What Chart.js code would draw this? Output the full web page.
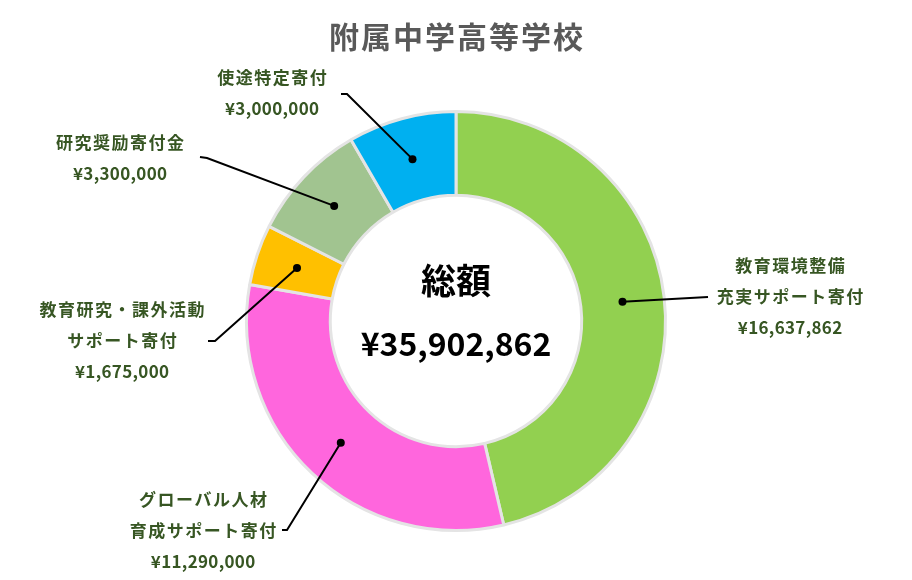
<!DOCTYPE html>
<html>
<head>
<meta charset="utf-8">
<script src="https://cdn.jsdelivr.net/npm/chart.js@4.4.1/dist/chart.umd.min.js"></script>
<style>
html,body{margin:0;padding:0;background:#fff;}
#wrap{width:912px;height:580px;position:relative;}
</style>
</head>
<body>
<div id="wrap"><canvas id="c" width="912" height="580"></canvas></div>
<script>
const chartTitle = "附属中学高等学校";
const categories = [
  ["教育環境整備", "充実サポート寄付"],
  ["グローバル人材", "育成サポート寄付"],
  ["教育研究・課外活動", "サポート寄付"],
  ["研究奨励寄付金"],
  ["使途特定寄付"]
];
const values = [16637862, 11290000, 1675000, 3300000, 3000000];
const colors = ["#92d050", "#ff66dd", "#ffc000", "#a1c490", "#00b0f0"];
const centerLabel = "総額";

const fmt = v => "¥" + v.toLocaleString("en-US");
const total = values.reduce((a, b) => a + b, 0);

// label layout: elbow point, tick end, text center x, first text line y
const labelLayout = [
  {elbow: [708, 297], tick: [708, 297], tx: 790, ty: 266},
  {elbow: [287, 530], tick: [282, 530], tx: 203, ty: 500},
  {elbow: [215, 341], tick: [208, 341], tx: 122, ty: 310},
  {elbow: [207, 158], tick: [200, 157], tx: 120, ty: 143},
  {elbow: [347, 94], tick: [341, 94], tx: 272, ty: 78}
];

const FONT = '"Noto Sans CJK JP", "Noto Sans", sans-serif';

function spacedText(ctx, t, x, y, sp) {
  ctx.letterSpacing = sp + "px";
  ctx.fillText(t, x + sp / 2, y);
  ctx.letterSpacing = "0px";
}

const labelPlugin = {
  id: 'labelPlugin',
  afterDraw(chart) {
    const ctx = chart.ctx;
    const meta = chart.getDatasetMeta(0);
    ctx.save();
    ctx.textAlign = "center";
    ctx.textBaseline = "middle";
    // title
    ctx.fillStyle = "#595959";
    ctx.font = "bold 30px " + FONT;
    spacedText(ctx, chartTitle, 456, 37, 2);
    // center text
    const arc0 = meta.data[0];
    ctx.fillStyle = "#000";
    ctx.font = "bold 35px " + FONT;
    ctx.fillText(centerLabel, arc0.x, 281);
    ctx.font = "bold 32px " + FONT;
    ctx.fillText(fmt(total), arc0.x, 344);
    // leader lines and labels
    meta.data.forEach((arc, i) => {
      const p = arc.tooltipPosition();
      const L = labelLayout[i];
      ctx.strokeStyle = "#000";
      ctx.lineWidth = 2;
      ctx.beginPath();
      ctx.moveTo(p.x, p.y);
      ctx.lineTo(L.elbow[0], L.elbow[1]);
      ctx.lineTo(L.tick[0], L.tick[1]);
      ctx.stroke();
      ctx.fillStyle = "#000";
      ctx.beginPath();
      ctx.arc(p.x, p.y, 4, 0, Math.PI * 2);
      ctx.fill();
      ctx.fillStyle = "#375623";
      ctx.font = "bold 17px " + FONT;
      const lines = categories[i];
      lines.forEach((t, k) => {
        spacedText(ctx, t, L.tx, L.ty + k * 31, 1.5);
      });
      spacedText(ctx, fmt(values[i]), L.tx, L.ty + lines.length * 31, 0.3);
    });
    ctx.restore();
  }
};

new Chart(document.getElementById('c'), {
  type: 'doughnut',
  data: {
    labels: categories.map(c => c.join("")),
    datasets: [{
      data: values,
      backgroundColor: colors,
      borderColor: "#e4e4e4",
      borderWidth: 3
    }]
  },
  options: {
    responsive: false,
    animation: false,
    cutout: "60%",
    layout: {padding: {top: 110, bottom: 48, left: 0, right: 0}},
    plugins: {
      legend: {display: false},
      tooltip: {enabled: false},
      title: {display: false}
    }
  },
  plugins: [labelPlugin]
});
</script>
</body>
</html>
